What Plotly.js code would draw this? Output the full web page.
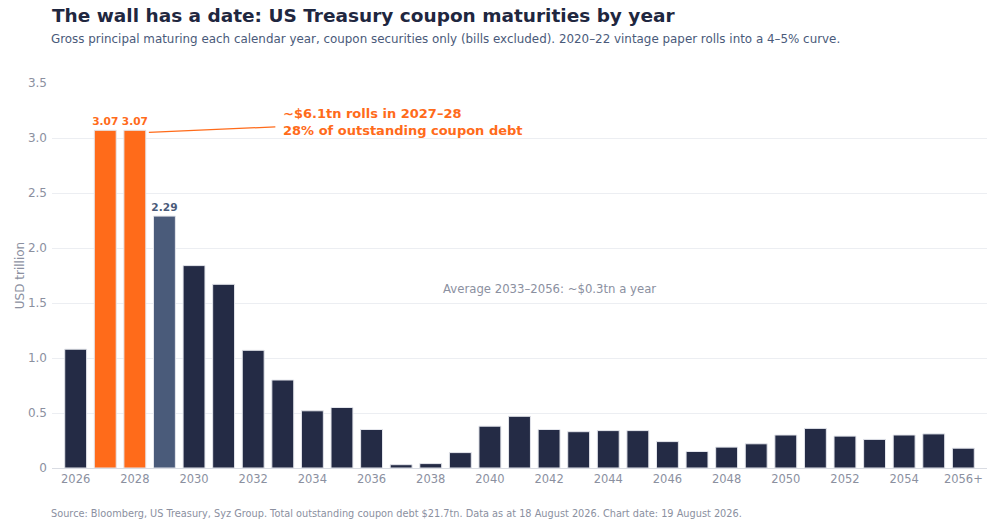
<!DOCTYPE html>
<html>
<head>
<meta charset="utf-8">
<script src="https://cdn.plot.ly/plotly-3.0.1.min.js"></script>
<style>
  html, body { margin: 0; padding: 0; background: #ffffff; }
  #chart { width: 1001px; height: 523px; }
</style>
</head>
<body>
<div id="chart"></div>
<script>
// maturity buckets, USD trillion
const years = ['2026', '2027', '2028', '2029', '2030', '2031', '2032', '2033', '2034', '2035',
    '2036', '2037', '2038', '2039', '2040', '2041', '2042', '2043', '2044', '2045',
    '2046', '2047', '2048', '2049', '2050', '2051', '2052', '2053', '2054', '2055', '2056+'];
const maturing = [1.08, 3.07, 3.07, 2.29, 1.84, 1.67, 1.07, 0.80, 0.52, 0.55,
    0.35, 0.03, 0.04, 0.14, 0.38, 0.47, 0.35, 0.33, 0.34, 0.34,
    0.24, 0.15, 0.19, 0.22, 0.30, 0.36, 0.29, 0.26, 0.30, 0.31, 0.18];
const wallYears = ['2027', '2028'];
const nextYears = ['2029'];
const yTicks = [0, 0.5, 1.0, 1.5, 2.0, 2.5, 3.0, 3.5];
const yTickText = ['0', '0.5', '1.0', '1.5', '2.0', '2.5', '3.0', '3.5'];

const NAVY = '#242b45';
const ORANGE = '#ff6b1a';
const SLATE = '#4a5b7a';
const GREY = '#8b909f';

colourFor = (yr) => {
    if (wallYears.includes(yr)) return ORANGE;
    if (nextYears.includes(yr)) return SLATE;
    return NAVY;
}

const barColours = years.map(colourFor);
const barLabels = years.map((yr, i) => colourFor(yr) === NAVY ? '' : maturing[i].toFixed(2));
const lastWall = years.indexOf(wallYears[wallYears.length - 1]);

const bars = {
    x: years,
    y: maturing,
    type: 'bar',
    marker: { color: barColours, line: { color: '#e4e6ec', width: 1 } },
    text: barLabels,
    textposition: 'outside',
    constraintext: 'none',
    textfont: { family: 'DejaVu Sans', size: 10.6, color: barColours, weight: 'bold' },
    cliponaxis: false,
    hoverinfo: 'x+y'
};

const layout = {
    width: 1001,
    height: 523,
    margin: { l: 52, r: 14, t: 83, b: 55 },
    paper_bgcolor: '#ffffff',
    plot_bgcolor: '#ffffff',
    font: { family: 'DejaVu Sans', color: GREY, size: 12 },
    showlegend: false,
    bargap: 0.26,
    title: {
        text: '<b>The wall has a date: US Treasury coupon maturities by year</b>',
        font: { family: 'DejaVu Sans', size: 18.5, color: '#1f2740' },
        xref: 'container', x: 52 / 1001, xanchor: 'left',
        yref: 'container', y: 1 - 16 / 523, yanchor: 'middle'
    },
    xaxis: {
        type: 'category',
        range: [-0.8, 30.8],
        tickvals: years.filter((yr, i) => i % 2 === 0),
        ticks: '',
        showgrid: false,
        showline: true,
        linecolor: '#d9dce3',
        linewidth: 1,
        tickfont: { size: 11.5, color: GREY }
    },
    yaxis: {
        range: [0, 3.5],
        tickvals: yTicks,
        ticktext: yTickText,
        showgrid: true,
        gridcolor: '#eceef2',
        zeroline: false,
        ticks: '',
        ticklabelstandoff: 4,
        tickfont: { size: 12, color: GREY },
        title: { text: 'USD trillion', font: { size: 12, color: GREY }, standoff: 0 }
    },
    annotations: [
        {
            text: 'Gross principal maturing each calendar year, coupon securities only (bills excluded). 2020–22 vintage paper rolls into a 4–5% curve.',
            xref: 'paper', yref: 'paper', x: 0, xshift: -3, y: 1 + (83 - 39) / 385,
            xanchor: 'left', yanchor: 'middle', showarrow: false,
            font: { size: 11.9, color: '#4a5a7a' }
        },
        {
            text: 'Source: Bloomberg, US Treasury, Syz Group. Total outstanding coupon debt $21.7tn. Data as at 18 August 2026. Chart date: 19 August 2026.',
            xref: 'paper', yref: 'paper', x: 0, xshift: -3, y: -(513 - 468) / 385,
            xanchor: 'left', yanchor: 'middle', showarrow: false,
            font: { size: 9.75, color: GREY }
        },
        {
            // leader line from the 2028 bar to the callout
            text: '',
            xref: 'x', yref: 'y', x: lastWall, y: 3.07,
            xshift: 14, yshift: -2,
            ax: 128, ay: -5.5,
            showarrow: true, arrowhead: 0, arrowwidth: 1.2, arrowcolor: ORANGE
        },
        {
            text: '<b>~$6.1tn rolls in 2027–28<br>28% of outstanding coupon debt</b>',
            xref: 'paper', yref: 'paper', x: (283 - 52) / 935, xshift: -2,
            y: (468 - 122) / 385,
            xanchor: 'left', yanchor: 'middle', align: 'left', showarrow: false,
            font: { size: 13, color: ORANGE }
        },
        {
            text: 'Average 2033–2056: ~$0.3tn a year',
            xref: 'paper', yref: 'y', x: (549 - 52) / 935, y: 1.627,
            xanchor: 'center', yanchor: 'middle', showarrow: false,
            font: { size: 11.7, color: GREY }
        }
    ]
};

Plotly.newPlot('chart', [bars], layout, { displayModeBar: false, staticPlot: true });
</script>
</body>
</html>
